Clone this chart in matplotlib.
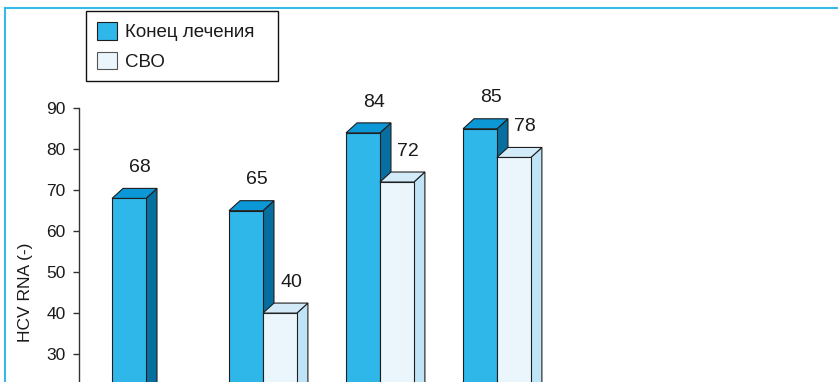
import numpy as np
import matplotlib
matplotlib.use('Agg')
import matplotlib.pyplot as plt
from matplotlib.patches import Polygon, Patch, Rectangle
from matplotlib.lines import Line2D

plt.rcParams['font.family'] = ['Liberation Sans', 'DejaVu Sans']

# values per group (first group has no CBO bar)
groups = [0, 1, 2, 3]
end_of_treatment = [68, 65, 84, 85]
svo = [np.nan, 40, 72, 78]
series_names = ['Конец лечения', 'СВО']

# colours: front, top, side
blue = ('#2eb7e8', '#0c97d6', '#076f9f')
light = ('#eaf5fc', '#d3ebf9', '#bfe4f7')
edge = '#1e1e1e'

W, H = 838, 382
fig = plt.figure(figsize=(W / 100, H / 100), dpi=100)

# axis runs 0..90, the lower part falls outside the figure
ax = fig.add_axes([79 / W, -0.2484, (W - 79) / W, 0.9649])
ax.set_ylim(0, 90)
ax.set_xlim(-0.5726, 5.915)

bw = 0.29      # bar width
ddx = 0.094    # depth offset, x
ddy = 2.44     # depth offset, y


def bar3d(x0, v, cols, z):
    ax.bar(x0, v, width=bw, align='edge', color=cols[0], edgecolor=edge,
           linewidth=0.8, zorder=z)
    x1 = x0 + bw
    top = Polygon([(x0, v), (x1, v), (x1 + ddx, v + ddy), (x0 + ddx, v + ddy)],
                  closed=True, facecolor=cols[1], edgecolor=edge, linewidth=0.8,
                  zorder=z)
    side = Polygon([(x1, 0), (x1, v), (x1 + ddx, v + ddy), (x1 + ddx, ddy)],
                   closed=True, facecolor=cols[2], edgecolor=edge, linewidth=0.8,
                   zorder=z - 0.5)
    ax.add_patch(top)
    ax.add_patch(side)
    ax.annotate(f'{v:g}', (x0 + bw / 2 + ddx, v + ddy), xytext=(0, 15),
                textcoords='offset points', ha='center', va='center',
                fontsize=14, color='#1a1a1a', zorder=10)


for g, a, b in zip(groups, end_of_treatment, svo):
    bar3d(g - bw, a, blue, 2)
    if not np.isnan(b):
        bar3d(g, b, light, 4)

# axes styling
for s in ['top', 'right', 'bottom']:
    ax.spines[s].set_visible(False)
ax.spines['left'].set_color('#333333')
ax.spines['left'].set_linewidth(1)
ax.set_xticks([])
ax.set_yticks(range(30, 100, 10))
ax.tick_params(axis='y', length=4.5, width=1, color='#333333', pad=5,
               labelsize=12.5, labelcolor='#1a1a1a')
ax.set_ylabel('HCV RNA (-)', fontsize=12.5, color='#1a1a1a')
ax.yaxis.set_label_coords(-0.060, 0.5)

# legend, with its box drawn separately
handles = [Patch(facecolor=blue[0], edgecolor=edge, linewidth=0.8),
           Patch(facecolor=light[0], edgecolor='#555555', linewidth=0.8)]
leg = fig.legend(handles, series_names, loc='upper left',
                 bbox_to_anchor=(97 / W, 1 - 22 / H), fontsize=13.5,
                 frameon=False, borderaxespad=0, borderpad=0,
                 handlelength=1.07, handleheight=1.07, handletextpad=0.42,
                 labelspacing=0.55)
for t in leg.get_texts():
    t.set_color('#1a1a1a')
fig.add_artist(Rectangle((86 / W, 1 - 81 / H), (278 - 86) / W, 70 / H,
                         transform=fig.transFigure, fill=False,
                         edgecolor='#111111', linewidth=1))

# blue frame at top and left
frame = '#35b8ea'
fig.add_artist(Line2D([4.5 / W, 1], [1 - 8 / H, 1 - 8 / H], color=frame, lw=1.5))
fig.add_artist(Line2D([4.5 / W, 4.5 / W], [0, 1 - 8 / H], color=frame, lw=1.5))

fig.savefig('out.png', dpi=100)
